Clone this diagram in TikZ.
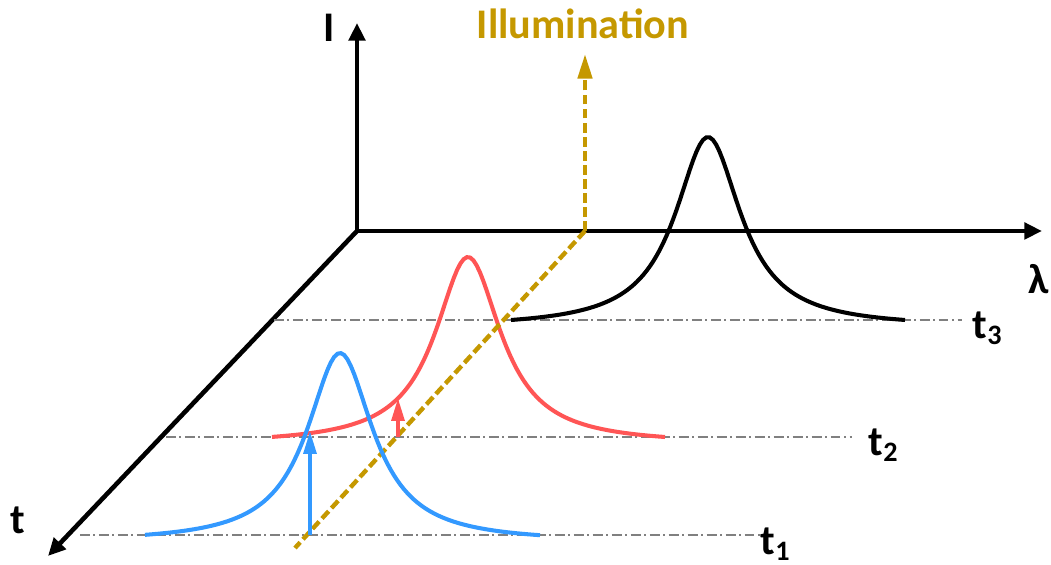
\documentclass[tikz,border=0pt]{standalone}
\usepackage{fontspec}
\setmainfont{Carlito}
\usetikzlibrary{arrows.meta}

\definecolor{illumgold}{RGB}{197,152,0}
\definecolor{specred}{RGB}{255,85,85}
\definecolor{specblue}{RGB}{51,153,255}

\tikzset{
  axisline/.style={line width=1.3pt, -{Triangle[length=5pt,width=4.6pt]}},
  timeline/.style={gray, line width=0.35pt, dash pattern=on 2.8pt off 1pt on 0.6pt off 1pt},
  lightpath/.style={illumgold, line width=1.25pt, dash pattern=on 2.8pt off 1.2pt},
  spectrum/.style={line width=1.15pt},
  shiftarrow/.style={line width=1.1pt, -{Triangle[length=6.5pt,width=3.6pt]}},
  lbl/.style={font=\bfseries\fontsize{12}{14}\selectfont, inner sep=0pt}
}

\begin{document}
\begin{tikzpicture}[x=0.01cm, y=-0.01cm,
  declare function={lz(\d)=(1/(1+(\d/40)^2)-1/(1+(197/40)^2))/(1-1/(1+(197/40)^2));}]

\useasboundingbox (0,0) rectangle (1051,565);

% axes
\coordinate (O) at (357,231);
\coordinate (Itip) at (357,23);
\coordinate (Ltip) at (1042,231);
\coordinate (Ttip) at (48,556);
\draw[axisline] (O) -- (Itip);
\draw[axisline] (O) -- (Ltip);
\draw[axisline] (O) -- (Ttip);
\node[lbl] (Ilabel) at (329,28) {I};
\node[lbl] (lambda) at (1039,279) {λ};
\node[lbl] (tlabel) at (18,520) {t};

% time lines
\coordinate (t3a) at (274,320);
\coordinate (t3b) at (962,320);
\coordinate (t2a) at (166,437);
\coordinate (t2b) at (852,437);
\coordinate (t1a) at (80,535);
\coordinate (t1b) at (760,535);
\draw[timeline] (t3a) -- (t3b);
\draw[timeline] (t2a) -- (t2b);
\draw[timeline] (t1a) -- (t1b);
\node[lbl] (t3) at (988,328) {t\textsubscript{3}};
\node[lbl] (t2) at (884,445) {t\textsubscript{2}};
\node[lbl] (t1) at (776,544) {t\textsubscript{1}};

% spectra
\draw[spectrum] plot[domain=-197:197, samples=120] ({708+\x},{320-183*lz(\x)});
\draw[spectrum, specred] plot[domain=-196:197, samples=120] ({468+\x},{437-180*lz(\x)});

% illumination
\coordinate (G0) at (585,231);
\coordinate (Gtop) at (585,54);
\coordinate (Gend) at (295,548);
\draw[lightpath] (G0) -- (Gend);
\draw[lightpath, -{Triangle[length=7pt,width=4pt]}] (G0) -- (Gtop);
\node[lbl, illumgold] (illum) at (583,24) {Illumination};

\draw[spectrum, specblue] plot[domain=-195:200, samples=120] ({340+\x},{535-182*lz(\x)});

% shifts
\coordinate (b0) at (310,535);
\coordinate (b1) at (310,431);
\coordinate (r0) at (398,437);
\coordinate (r1) at (398,398);
\draw[shiftarrow, specblue] (b0) -- (b1);
\draw[shiftarrow, specred] (r0) -- (r1);

\end{tikzpicture}
\end{document}
